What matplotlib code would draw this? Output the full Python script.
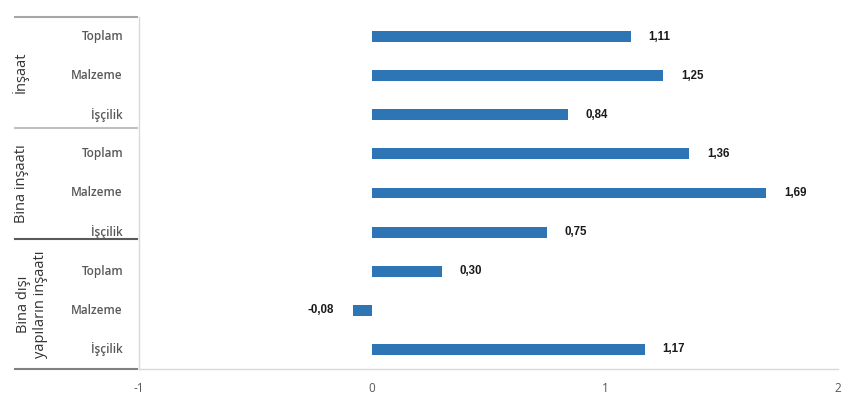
import matplotlib
matplotlib.use("Agg")
import matplotlib.pyplot as plt
from matplotlib.lines import Line2D

groups = ["İnşaat", "Bina inşaatı", "Bina dışı\nyapıların inşaatı"]
subcats = ["Toplam", "Malzeme", "İşçilik"]
values = [1.11, 1.25, 0.84, 1.36, 1.69, 0.75, 0.30, -0.08, 1.17]
xticks = [-1, 0, 1, 2]

W, H = 850, 413
fig = plt.figure(figsize=(W / 100, H / 100), dpi=100)
ax_l, ax_r, ax_t, ax_b = 139, 838, 17, 369
ax = fig.add_axes([ax_l / W, 1 - ax_b / H, (ax_r - ax_l) / W, (ax_b - ax_t) / H])

n = len(values)
ypos = list(range(n))
bar_color = "#2E75B6"
ax.barh(ypos, values, height=0.28, color=bar_color)
ax.set_xlim(-1, 2)
ax.set_ylim(n - 0.5, -0.5)

for y, v in zip(ypos, values):
    lbl = f"{v:.2f}".replace(".", ",")
    if v >= 0:
        ax.annotate(lbl, (v, y), xytext=(13, 0), textcoords="offset points",
                    ha="left", va="center", fontsize=8.3, fontweight="bold",
                    family="Liberation Sans", color="#1a1a1a")
    else:
        ax.annotate(lbl, (v, y), xytext=(-14, 0), textcoords="offset points",
                    ha="right", va="center", fontsize=8.3, fontweight="bold",
                    family="Liberation Sans", color="#1a1a1a")

for s in ["top", "right"]:
    ax.spines[s].set_visible(False)
ax.spines["left"].set_color("#d9d9d9")
ax.spines["bottom"].set_color("#d9d9d9")
ax.spines["left"].set_linewidth(1.0)
ax.spines["bottom"].set_linewidth(1.0)

ax.set_xticks(xticks)
ax.set_xticklabels([str(t) for t in xticks], fontsize=8.5, color="#595959", family="Open Sans")
ax.tick_params(axis="x", length=0, pad=9)
ax.set_yticks([])

# category labels
labels = subcats * len(groups)
for y, lab in zip(ypos, labels):
    fig.text(123 / W, 1 - (ax_t + (y + 0.5) * (ax_b - ax_t) / n) / H, lab,
             ha="right", va="center", fontsize=8.5, color="#595959",
             family="Open Sans", fontweight="semibold")

# group labels
group_centers = [(17, 128), (128, 239), (239, 369)]
group_x = [20, 22, 32]
for g, (top, bot), gx in zip(groups, group_centers, group_x):
    fig.text(gx / W, 1 - ((top + bot) / 2) / H, g, rotation=90, ha="center",
             va="center", fontsize=10.5, color="#333333", family="Open Sans",
             linespacing=1.15)

# separator lines
sep = [(17, "#a6a6a6"), (128, "#c0c0c0"), (239, "#595959"), (369, "#808080")]
for yy, c in sep:
    fig.add_artist(Line2D([15 / W, 137 / W], [1 - yy / H, 1 - yy / H],
                          color=c, linewidth=1.5, transform=fig.transFigure))

fig.savefig("out.png", dpi=100)
